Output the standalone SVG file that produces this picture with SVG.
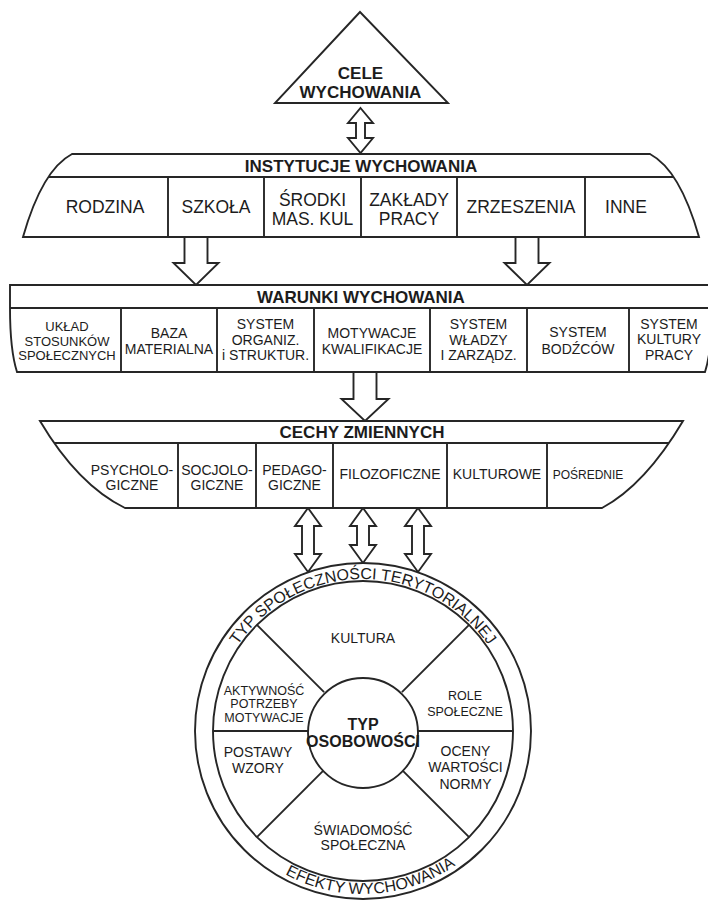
<svg xmlns="http://www.w3.org/2000/svg" width="708" height="904" viewBox="0 0 708 904">
<style>
.s{fill:#fff;stroke:#262626;stroke-width:1.9;stroke-linejoin:miter}
.l{fill:none;stroke:#262626;stroke-width:1.9}
text{font-family:"Liberation Sans",Arial,Helvetica,sans-serif;fill:#1c1c1c;text-anchor:middle}
.h{font-size:17px;font-weight:bold}
.c1{font-size:17.5px}
.c2{font-size:14px}
.c3{font-size:13px}
.c4{font-size:12.5px}
.c5{font-size:12px}
.tb{font-size:16px;font-weight:bold}
.r{font-size:16px}
</style>
<defs>
<path id="pInst" d="M72,154 L650,154 Q680,170 699,237 L23,237 Q42,170 72,154 Z"/>
<path id="pWar" d="M10,285 L712,285 L712,308 Q712,350 705,372 L17,372 Q10,350 10,308 Z"/>
<path id="pCech" d="M40,421 L683,421 Q645,485 602,508 L125,508 Q78,485 40,421 Z"/>
<clipPath id="cInst"><use href="#pInst"/></clipPath>
<clipPath id="cWar"><use href="#pWar"/></clipPath>
<clipPath id="cCech"><use href="#pCech"/></clipPath>
<path id="arcTop" d="M211,731 A152,152 0 0 1 515,731"/>
<path id="arcBot" d="M200,731 A163,163 0 0 0 526,731"/>
</defs>
<rect width="708" height="904" fill="#fff"/>

<g id="connectors">
<polygon class="s" points="360.5,108 373,123 365,123 365,138 373,138 360.5,153 348,138 356,138 356,123 348,123"/>
<polygon class="s" points="184.5,237 207.5,237 207.5,263 218.5,263 196,285 173.5,263 184.5,263"/>
<polygon class="s" points="515.5,237 538.5,237 538.5,263 549.5,263 527,285 504.5,263 515.5,263"/>
<polygon class="s" points="353.5,372 376.5,372 376.5,399 388.5,399 365,421 341.5,399 353.5,399"/>
<polygon class="s" points="308,508 321,526 314,526 314,554 321,554 308,572 295,554 302,554 302,526 295,526"/>
<polygon class="s" points="363,508 376,526 369,526 369,545 376,545 363,563 350,545 357,545 357,526 350,526"/>
<polygon class="s" points="418,508 431,526 424,526 424,554 431,554 418,572 405,554 412,554 412,526 405,526"/>
</g>

<g id="cele">
<polygon class="s" points="360,12 448,103 275,103"/>
<text class="h" x="360.5" y="78.5">CELE</text>
<text class="h" x="360.5" y="97.5">WYCHOWANIA</text>
</g>

<g id="instytucje">
<use href="#pInst" class="s"/>
<g clip-path="url(#cInst)" class="l">
<line x1="0" y1="177" x2="708" y2="177"/>
<line x1="168" y1="177" x2="168" y2="237"/>
<line x1="264" y1="177" x2="264" y2="237"/>
<line x1="361" y1="177" x2="361" y2="237"/>
<line x1="457" y1="177" x2="457" y2="237"/>
<line x1="585" y1="177" x2="585" y2="237"/>
</g>
<text class="h" x="361" y="171.5">INSTYTUCJE WYCHOWANIA</text>
<text class="c1" x="105" y="213.3">RODZINA</text>
<text class="c1" x="216" y="213.3">SZKOŁA</text>
<text class="c1" x="312.5" y="205.5">ŚRODKI</text>
<text class="c1" x="312.5" y="225">MAS. KUL</text>
<text class="c1" x="409" y="205.5">ZAKŁADY</text>
<text class="c1" x="409" y="225">PRACY</text>
<text class="c1" x="521" y="213.3">ZRZESZENIA</text>
<text class="c1" x="626" y="213.3">INNE</text>
</g>

<g id="warunki">
<use href="#pWar" class="s"/>
<g clip-path="url(#cWar)" class="l">
<line x1="0" y1="308" x2="708" y2="308"/>
<line x1="121" y1="308" x2="121" y2="372"/>
<line x1="217" y1="308" x2="217" y2="372"/>
<line x1="314" y1="308" x2="314" y2="372"/>
<line x1="430" y1="308" x2="430" y2="372"/>
<line x1="527" y1="308" x2="527" y2="372"/>
<line x1="629" y1="308" x2="629" y2="372"/>
</g>
<text class="h" x="361" y="303">WARUNKI WYCHOWANIA</text>
<text class="c3" x="67" y="331">UKŁAD</text>
<text class="c3" x="67" y="345.5">STOSUNKÓW</text>
<text class="c3" x="67" y="360">SPOŁECZNYCH</text>
<text class="c2" x="169" y="338">BAZA</text>
<text class="c2" x="169" y="354">MATERIALNA</text>
<text class="c2" x="265.5" y="329">SYSTEM</text>
<text class="c2" x="265.5" y="345">ORGANIZ.</text>
<text class="c2" x="265.5" y="360">i STRUKTUR.</text>
<text class="c2" x="372" y="338">MOTYWACJE</text>
<text class="c2" x="372" y="354">KWALIFIKACJE</text>
<text class="c2" x="478.5" y="329">SYSTEM</text>
<text class="c2" x="478.5" y="345">WŁADZY</text>
<text class="c2" x="478.5" y="360">I ZARZĄDZ.</text>
<text class="c2" x="578" y="336.5">SYSTEM</text>
<text class="c2" x="578" y="353.5">BODŹCÓW</text>
<text class="c2" x="669" y="328.5">SYSTEM</text>
<text class="c2" x="669" y="344">KULTURY</text>
<text class="c2" x="669" y="359.5">PRACY</text>
</g>

<g id="cechy">
<use href="#pCech" class="s"/>
<g clip-path="url(#cCech)" class="l">
<line x1="0" y1="443" x2="708" y2="443"/>
<line x1="178" y1="443" x2="178" y2="508"/>
<line x1="256" y1="443" x2="256" y2="508"/>
<line x1="333" y1="443" x2="333" y2="508"/>
<line x1="447" y1="443" x2="447" y2="508"/>
<line x1="547" y1="443" x2="547" y2="508"/>
</g>
<text class="h" x="362" y="438">CECHY ZMIENNYCH</text>
<text class="c2" x="132" y="475">PSYCHOLO-</text>
<text class="c2" x="132" y="490">GICZNE</text>
<text class="c2" x="217" y="475">SOCJOLO-</text>
<text class="c2" x="217" y="490">GICZNE</text>
<text class="c2" x="294.5" y="475">PEDAGO-</text>
<text class="c2" x="294.5" y="490">GICZNE</text>
<text class="c2" x="390" y="479">FILOZOFICZNE</text>
<text class="c2" x="497" y="479">KULTUROWE</text>
<text class="c5" x="588" y="478.5">POŚREDNIE</text>
</g>

<g id="typ-spolecznosci">
<circle class="s" cx="363" cy="731" r="168"/>
<circle class="l" cx="363" cy="731" r="150"/>
<g class="l">
<line x1="213" y1="731" x2="310" y2="731"/>
<line x1="416" y1="731" x2="513" y2="731"/>
<line x1="256.9" y1="624.9" x2="324.1" y2="692.1"/>
<line x1="469.1" y1="624.9" x2="401.9" y2="692.1"/>
<line x1="256.9" y1="837.1" x2="324.1" y2="769.9"/>
<line x1="469.1" y1="837.1" x2="401.9" y2="769.9"/>
</g>
<text class="r"><textPath href="#arcTop" startOffset="50%">TYP SPOŁECZNOŚCI TERYTORIALNEJ</textPath></text>
<text class="r"><textPath href="#arcBot" startOffset="51.7%">EFEKTY WYCHOWANIA</textPath></text>
<text class="c2" x="363" y="643.3">KULTURA</text>
<text class="c4" x="264" y="694.5">AKTYWNOŚĆ</text>
<text class="c4" x="264" y="708">POTRZEBY</text>
<text class="c4" x="264" y="721.5">MOTYWACJE</text>
<text class="c4" x="465" y="699.5">ROLE</text>
<text class="c4" x="465" y="715.5">SPOŁECZNE</text>
<text class="c2" x="258" y="757.3">POSTAWY</text>
<text class="c2" x="258" y="773.3">WZORY</text>
<text class="c2" x="465.5" y="755.7">OCENY</text>
<text class="c2" x="465.5" y="772.3">WARTOŚCI</text>
<text class="c2" x="465.5" y="789">NORMY</text>
<text class="c2" x="363" y="835">ŚWIADOMOŚĆ</text>
<text class="c2" x="363" y="850">SPOŁECZNA</text>
</g>

<g id="typ-osobowosci">
<circle class="s" cx="363" cy="733" r="55"/>
<text class="tb" x="363" y="729.7">TYP</text>
<text class="tb" x="363" y="747.4">OSOBOWOŚCI</text>
</g>
</svg>
